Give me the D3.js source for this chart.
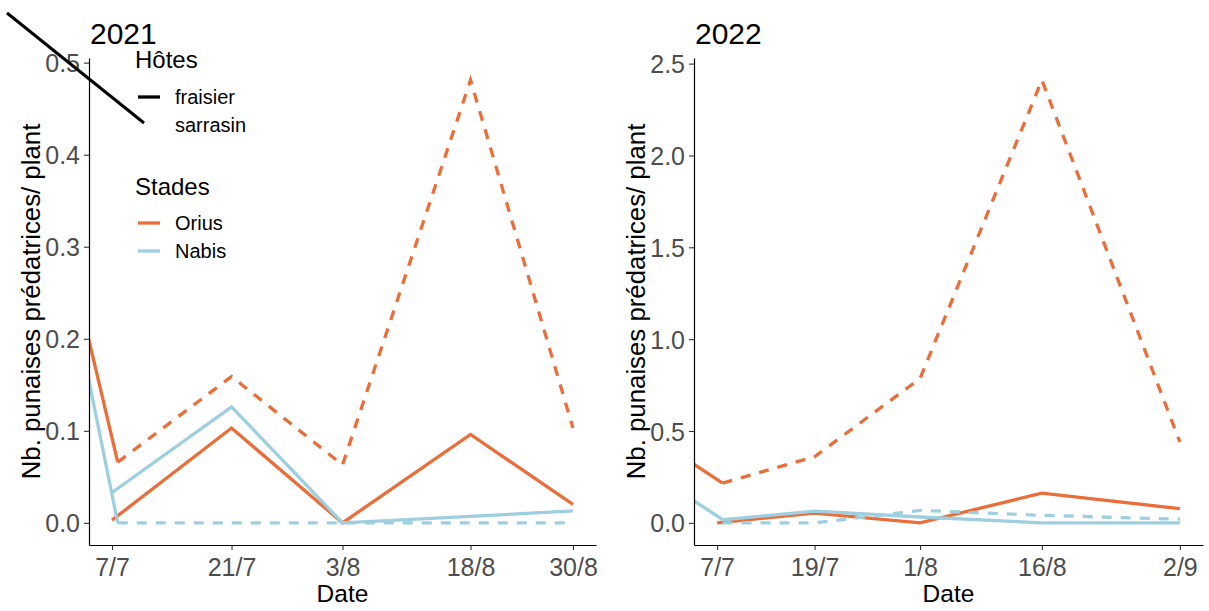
<!DOCTYPE html>
<html>
<head>
<meta charset="utf-8">
<script src="https://cdn.jsdelivr.net/npm/d3@7"></script>
<style>
  body { margin: 0; background: #fff; }
  text { font-family: "Liberation Sans", Arial, sans-serif; }
</style>
</head>
<body>
<script>
// sampling dates (fraisier) and the shifted first date of sarrasin
const dates2021 = ["2021-07-07", "2021-07-21", "2021-08-03", "2021-08-18", "2021-08-30"];
const datesSarr2021 = ["2021-07-07T16:00", "2021-07-21", "2021-08-03", "2021-08-18", "2021-08-30"];
const dates2022 = ["2022-07-07", "2022-07-19", "2022-08-01", "2022-08-16", "2022-09-02"];
const datesSarr2022 = ["2022-07-07T16:00", "2022-07-19", "2022-08-01", "2022-08-16", "2022-09-02"];

const tickLabels2021 = ["7/7", "21/7", "3/8", "18/8", "30/8"];
const tickLabels2022 = ["7/7", "19/7", "1/8", "16/8", "2/9"];

// values (nb. per plant)
const oriusFraisier2021 = [0.003, 0.103, 0.0, 0.096, 0.020];
const oriusSarrasin2021 = [0.066, 0.159, 0.063, 0.481, 0.103];
const nabisFraisier2021 = [0.033, 0.126, 0.0, 0.007, 0.013];
const nabisSarrasin2021 = [0.0, 0.0, 0.0, 0.0, 0.0];

const oriusFraisier2022 = [0.0, 0.053, 0.0, 0.162, 0.077];
const oriusSarrasin2022 = [0.216, 0.36, 0.786, 2.41, 0.44];
const nabisFraisier2022 = [0.017, 0.064, 0.032, 0.0, 0.0];
const nabisSarrasin2022 = [0.0, 0.0, 0.068, 0.041, 0.02];

// earlier point (outside the window) joined to the first point
const leadDate2021 = "2021-07-04";
const leadOrius2021 = 0.210;
const leadNabis2021 = 0.168;
const leadDate2022 = "2022-07-04";
const leadOrius2022 = 0.324;
const leadNabis2022 = 0.125;

const yTicks2021 = [0, 0.1, 0.2, 0.3, 0.4, 0.5];
const yTicks2022 = [0, 0.5, 1.0, 1.5, 2.0, 2.5];

const colors = { Orius: "#ea6e3a", Nabis: "#9dcfe0" };

const parse = s => new Date(s);
const pts = (ds, vs) => ds.map((d, i) => ({ date: parse(d), value: vs[i] }));

const panels = [
  {
    year: "2021", left: 89, right: 596, dates: dates2021, ticks: tickLabels2021, yTicks: yTicks2021,
    series: [
      { stade: "Orius", dash: false, points: pts(dates2021, oriusFraisier2021) },
      { stade: "Orius", dash: true, points: pts(datesSarr2021, oriusSarrasin2021) },
      { stade: "Nabis", dash: false, points: pts(dates2021, nabisFraisier2021) },
      { stade: "Nabis", dash: true, points: pts(datesSarr2021, nabisSarrasin2021) },
      { stade: "Orius", dash: false, points: pts([leadDate2021, datesSarr2021[0]], [leadOrius2021, oriusSarrasin2021[0]]) },
      { stade: "Nabis", dash: false, points: pts([leadDate2021, datesSarr2021[0]], [leadNabis2021, nabisSarrasin2021[0]]) }
    ]
  },
  {
    year: "2022", left: 694, right: 1203, dates: dates2022, ticks: tickLabels2022, yTicks: yTicks2022,
    series: [
      { stade: "Orius", dash: false, points: pts(dates2022, oriusFraisier2022) },
      { stade: "Orius", dash: true, points: pts(datesSarr2022, oriusSarrasin2022) },
      { stade: "Nabis", dash: false, points: pts(datesSarr2022, nabisFraisier2022) },
      { stade: "Nabis", dash: true, points: pts(datesSarr2022, nabisSarrasin2022) },
      { stade: "Orius", dash: false, points: pts([leadDate2022, datesSarr2022[0]], [leadOrius2022, oriusSarrasin2022[0]]) },
      { stade: "Nabis", dash: false, points: pts([leadDate2022, datesSarr2022[0]], [leadNabis2022, nabisFraisier2022[0]]) }
    ]
  }
];

const W = 1209, H = 611;
const panelTop = 58, panelBottom = 545;

const svg = d3.select("body").append("svg")
  .attr("width", W).attr("height", H);

panels.forEach((p, k) => {
  const dExt = d3.extent(p.dates, parse);
  const span = dExt[1] - dExt[0];
  const x = d3.scaleTime()
    .domain([new Date(+dExt[0] - span * 0.05), new Date(+dExt[1] + span * 0.05)])
    .range([p.left, p.right]);

  const allVals = p.series.slice(0, 4).flatMap(s => s.points.map(d => d.value));
  const yMax = d3.max(allVals);
  const y = d3.scaleLinear()
    .domain([-yMax * 0.05, yMax * 1.05])
    .range([panelBottom, panelTop]);

  const clipId = "clip" + k;
  svg.append("clipPath").attr("id", clipId)
    .append("rect")
    .attr("x", p.left).attr("y", panelTop)
    .attr("width", p.right - p.left).attr("height", panelBottom - panelTop);

  // lines
  const line = d3.line().x(d => x(d.date)).y(d => y(d.value));
  const g = svg.append("g").attr("clip-path", `url(#${clipId})`);
  g.selectAll("path")
    .data(p.series)
    .enter()
    .append("path")
    .attr("d", s => line(s.points))
    .attr("fill", "none")
    .attr("stroke", s => colors[s.stade])
    .attr("stroke-width", 3.3)
    .attr("stroke-dasharray", s => s.dash ? "10,9" : null);

  // axes
  const xAxis = d3.axisBottom(x)
    .tickValues(p.dates.map(parse))
    .tickFormat((d, i) => p.ticks[i])
    .tickSize(5).tickSizeOuter(0).tickPadding(6);
  const yAxis = d3.axisLeft(y)
    .tickValues(p.yTicks)
    .tickFormat(d3.format(".1f"))
    .tickSize(5).tickSizeOuter(0).tickPadding(4);

  const gx = svg.append("g").attr("transform", `translate(0,${panelBottom})`).call(xAxis);
  const gy = svg.append("g").attr("transform", `translate(${p.left},0)`).call(yAxis);
  [gx, gy].forEach(a => {
    a.select(".domain").attr("stroke", "#000").attr("stroke-width", 1.2);
    a.selectAll(".tick line").attr("stroke", "#333").attr("stroke-width", 1.1);
    a.selectAll(".tick text")
      .attr("fill", "#4d4d4d")
      .style("font-size", "25px")
      .style("font-family", "'Liberation Sans', Arial, sans-serif");
  });
  gx.selectAll(".tick text").attr("dy", "0.8em");
  gy.selectAll(".tick text").attr("dy", "0.36em");

  // titles
  svg.append("text")
    .attr("x", p.left + 1).attr("y", 44)
    .style("font-size", "30px").attr("fill", "#000")
    .text(p.year);

  svg.append("text")
    .attr("x", (p.left + p.right) / 2).attr("y", 602)
    .attr("text-anchor", "middle")
    .style("font-size", "24.5px").attr("fill", "#000")
    .text("Date");

  svg.append("text")
    .attr("transform", `translate(${p.left - 49},${(panelTop + panelBottom) / 2}) rotate(-90)`)
    .attr("text-anchor", "middle")
    .style("font-size", "25.8px").attr("fill", "#000")
    .text("Nb. punaises prédatrices/ plant");
});

// legend
const legend = svg.append("g");
legend.append("line")
  .attr("x1", 7).attr("y1", 13).attr("x2", 144).attr("y2", 123)
  .attr("stroke", "#000").attr("stroke-width", 3);

const hotes = ["fraisier", "sarrasin"];
const stades = ["Orius", "Nabis"];

legend.append("text").attr("x", 135).attr("y", 68)
  .style("font-size", "24px").text("Hôtes");
legend.append("line")
  .attr("x1", 138).attr("x2", 160).attr("y1", 97).attr("y2", 97)
  .attr("stroke", "#000").attr("stroke-width", 3.3);
hotes.forEach((h, i) => {
  legend.append("text").attr("x", 175).attr("y", 97 + i * 28)
    .attr("dy", "0.35em")
    .style("font-size", "20px").text(h);
});

legend.append("text").attr("x", 135).attr("y", 195)
  .style("font-size", "24px").text("Stades");
stades.forEach((s, i) => {
  const yy = 223 + i * 28;
  legend.append("line")
    .attr("x1", 138).attr("x2", 160).attr("y1", yy).attr("y2", yy)
    .attr("stroke", colors[s]).attr("stroke-width", 3.3);
  legend.append("text").attr("x", 175).attr("y", yy)
    .attr("dy", "0.35em")
    .style("font-size", "20px").text(s);
});
</script>
</body>
</html>
